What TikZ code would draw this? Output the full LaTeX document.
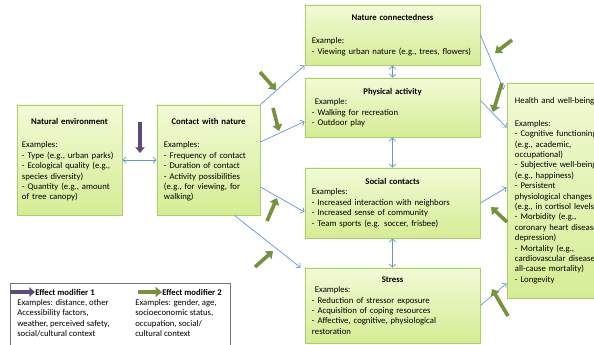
\documentclass[tikz,border=0pt]{standalone}
\usepackage{fontspec}
\setmainfont{Carlito}
\usepackage{tikz}
\usetikzlibrary{arrows.meta, calc, shadows}

\definecolor{boxtop}{RGB}{242,250,214}
\definecolor{boxbot}{RGB}{212,237,148}
\definecolor{boxline}{RGB}{172,206,104}
\definecolor{linkblue}{RGB}{100,149,215}
\definecolor{modgreen}{RGB}{118,146,60}
\definecolor{effpurple}{RGB}{96,74,123}

\newcommand{\boxtitle}[1]{\makebox[\hsize][c]{\bfseries #1}}

\tikzset{
  factor/.style={draw=boxline, line width=0.6pt, top color=boxtop, bottom color=boxbot,
    drop shadow={shadow xshift=1pt, shadow yshift=-1pt, opacity=0.3, fill=black!60},
    inner xsep=0.175cm, inner ysep=0pt, align=left,
    font=\fontsize{6.2}{7.4}\selectfont},
  link/.style={draw=linkblue, line width=0.5pt, >={Straight Barb[length=2.2pt,width=4.5pt]}},
  modarrow/.style={draw=modgreen, line width=2.6pt, -{Triangle[length=4.5pt,width=7pt]}},
  effarrow/.style={draw=effpurple, line width=2.4pt, -{Triangle[length=4pt,width=6.5pt]}},
  legtext/.style={inner sep=0pt, align=left, font=\fontsize{6.2}{7.4}\selectfont}
}

\begin{document}
\begin{tikzpicture}[x=0.025cm, y=-0.025cm]
\useasboundingbox (0,0) rectangle (594,344);
\clip (0,0) rectangle (594,344);

% boxes
\node[factor, minimum width=2.625cm, minimum height=2.75cm, inner xsep=0.125cm, text width=2.375cm] (natenv) at (69.5,160)
  {\boxtitle{Natural environment}\\[9pt]
   Examples:\\- Type (e.g., urban parks)\\- Ecological quality (e.g.,\\species diversity)\\- Quantity (e.g., amount\\of tree canopy)};
\node[factor, minimum width=2.575cm, minimum height=2.75cm, text width=2.225cm] (contact) at (208.5,160)
  {\boxtitle{Contact with nature}\\[9pt]
   Examples:\\- Frequency of contact\\- Duration of contact\\- Activity possibilities\\(e.g., for viewing, for\\walking)};
\node[factor, minimum width=4.375cm, minimum height=1.5cm, text width=4.025cm] (connect) at (392.5,35)
  {\boxtitle{Nature connectedness}\\[9pt]
   Example:\\- Viewing urban nature (e.g., trees, flowers)};
\node[factor, minimum width=4.375cm, minimum height=1.475cm, text width=4.025cm] (phys) at (392.5,107.5)
  {\boxtitle{Physical activity}\\
   \ Example:\\- Walking for recreation\\- Outdoor play};
\node[factor, minimum width=4.375cm, minimum height=1.75cm, text width=4.025cm] (social) at (392.5,203)
  {\boxtitle{Social contacts}\\
   Examples:\\- Increased interaction with neighbors\\- Increased sense of community\\- Team sports (e.g. soccer, frisbee)};
\node[factor, minimum width=4.375cm, minimum height=1.875cm, text width=4.025cm] (stress) at (392.5,305.5)
  {\boxtitle{Stress}\\
   \ Examples:\\- Reduction of stressor exposure\\- Acquisition of coping resources\\- Affective, cognitive, physiological\\restoration};
\node[factor, minimum width=3.4cm, minimum height=5.375cm, text width=3cm, inner xsep=0.2cm] (health) at (575,190.5)
  {Health and well-being\\[9pt]
   Examples:\\- Cognitive functioning\\(e.g., academic,\\occupational)\\- Subjective well-being\\(e.g., happiness)\\- Persistent\\physiological changes\\(e.g., in cortisol levels)\\- Morbidity (e.g.,\\coronary heart disease,\\depression)\\- Mortality (e.g.,\\cardiovascular disease,\\all-cause mortality)\\- Longevity};

% links
\draw[link, <->] (natenv) -- (contact);
\draw[link, ->] (contact.north east) -- (connect.south west);
\draw[link, ->] ($(contact.east)+(0,-18)$) -- ($(phys.west)+(0,14)$);
\draw[link, ->] ($(contact.east)+(0,27)$) -- ($(social.west)+(0,9)$);
\draw[link, ->] ($(contact.south)+(26,0)$) -- ($(stress.north west)+(-4,0)$);
\draw[link, <->] (connect) -- (phys);
\draw[link, <->] (phys) -- (social);
\draw[link, <->] (social) -- (stress);
\draw[link, ->] (connect.east) -- ($(health.north west)+(-3,7)$);
\draw[link, ->] ($(phys.east)+(0,-7)$) -- ($(health.west)+(0,-63)$);
\draw[link, ->] (social.east) -- ($(health.west)+(0,-3)$);
\draw[link, ->] (stress.east) -- ($(health.west)+(0,93)$);

% effect modifiers
\draw[effarrow] (140,122) -- (140,153);
\foreach \xa/\ya/\xb/\yb in {260/72/276/90, 273/108/279/131, 267/221/277/198, 255/267/273/251,
                            512/40/495/53, 502/83/493/112, 507/222/491/207, 508/316/492/289}
  \draw[modarrow] (\xa,\ya) -- (\xb,\yb);

% legend
\node[draw=black!55, line width=0.7pt, fill=white, minimum width=5.5cm, minimum height=1.9cm,
      anchor=north west, inner sep=0pt] (legend) at (10,283) {};
\node[legtext, anchor=west, font=\fontsize{6.2}{7.4}\selectfont\bfseries] (modone) at (35,292) {Effect modifier 1};
\node[legtext, anchor=west, font=\fontsize{6.2}{7.4}\selectfont\bfseries] (modtwo) at (162,292) {Effect modifier 2};
\node[legtext, anchor=north west] (modoneex) at (17,299)
  {Examples: distance, other\\Accessibility factors,\\weather, perceived safety,\\social/cultural context};
\node[legtext, anchor=north west] (modtwoex) at (135,299)
  {Examples: gender, age,\\socioeconomic status,\\occupation, social/\\cultural context};
\draw[effarrow] (legend.west |- modone.west) -- (modone.west);
\draw[modarrow, line width=2.2pt] ($(modtwo.west)+(-24,0)$) -- (modtwo.west);
\end{tikzpicture}
\end{document}
